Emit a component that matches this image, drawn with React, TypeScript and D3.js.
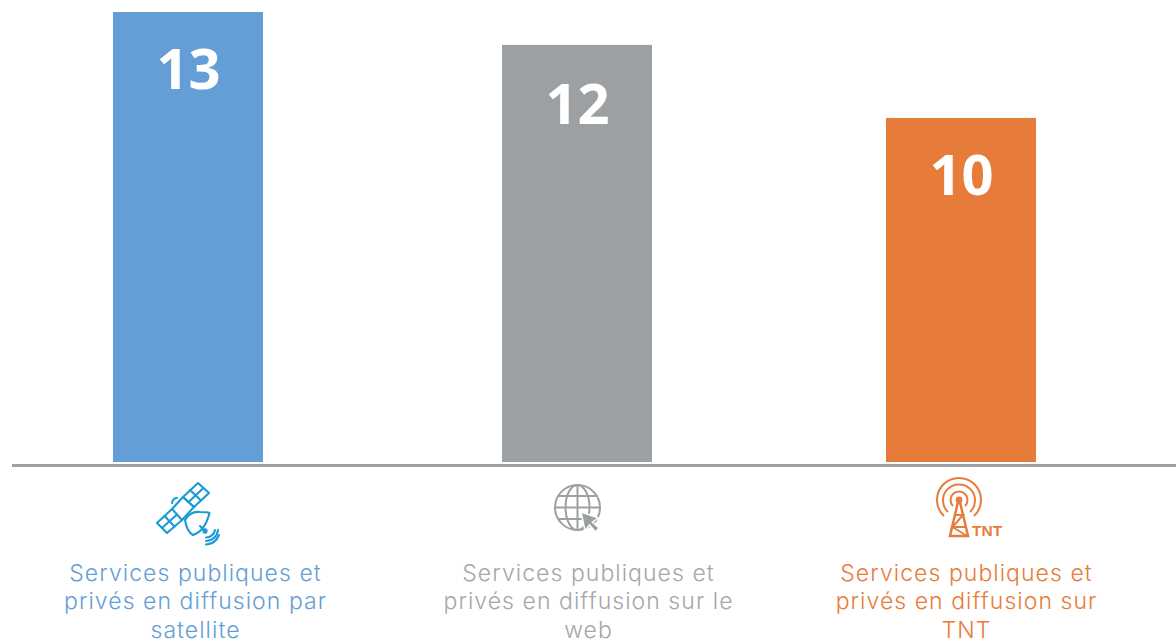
import React, { useEffect, useRef } from 'react';
import * as d3 from 'd3';

// heights, the printed labels round them
const categories = ['satellite', 'web', 'tnt'];
const values = [13, 12.05, 9.94];
const barColors = ['#659ed6', '#9da0a2', '#e77c3a'];
const textColors = ['#659ed6', '#a5a7aa', '#e77c3a'];
const valueOffsets = [77, 79.5, 77];
const labelLines = [
    ['Services publiques et', 'privés en diffusion par', 'satellite'],
    ['Services publiques et', 'privés en diffusion sur le', 'web'],
    ['Services publiques et', 'privés en diffusion sur', 'TNT'],
];

const WIDTH = 1176;
const HEIGHT = 641;

const SatelliteIcon = () => (
    <g fill="none" stroke="#1b9ad6" strokeWidth={2.1} strokeLinejoin="round" strokeLinecap="round">
        <path d="M183 497 L198 483 L209 493 L194 507 Z" />
        <path d="M188.500 502 L203.500 488 M190 490 L201 500.500" />
        <path d="M157 523 L172 509 L182 520 L167 533 Z" />
        <path d="M162 528 L177 514.500 M164.500 516 L174.500 526.500" />
        <path d="M172 509 L183 497 L194 507 L182 520" />
        <path d="M172 503 Q173 498 177 498" />
        <path d="M185 520 Q190 511 200 512 Q207 512 209.500 513 Q205 531 193 535 Q187 532 185 520 Z" />
        <path d="M200 526 L205 531" />
        <circle cx={205} cy={531} r={1.6} />
        <path d="M206 541 A12 12 0 0 0 218 530" />
        <path d="M206 537.500 A9 9 0 0 0 215 530" />
        <path d="M206 544.500 A15 15 0 0 0 219 535" />
    </g>
);

const GlobeIcon = () => (
    <g>
        <g fill="none" stroke="#9da0a2" strokeWidth={2}>
            <circle cx={577.5} cy={507.5} r={22.5} />
            <ellipse cx={577.5} cy={507.5} rx={12} ry={22.5} />
            <path d="M577.500 485 V530 M555 507.500 H600 M559 496 H596 M559 519 H596" />
        </g>
        <path
            d="M581 512 L585 531 L589.500 525 L595.500 532 L599 528 L592.500 522 L598.500 518 Z"
            fill="#9da0a2"
            stroke="#fff"
            strokeWidth={1.5}
        />
    </g>
);

const TowerIcon = () => (
    <g stroke="#e77c3a" fill="none" strokeWidth={2}>
        <path d="M953 506 A8.500 8.500 0 1 1 965 506" />
        <path d="M948 512 A16 16 0 1 1 970 512" />
        <path d="M944 516 A22 22 0 1 1 974 516" />
        <circle cx={959} cy={500} r={2.4} fill="#e77c3a" />
        <path d="M958 502 L950 536 H968 L960 502" strokeWidth={2.5} />
        <path d="M955 515 H963 L952.500 527 H965 M952.500 527 L967 536" />
        <text
            x={972}
            y={536}
            fontFamily="Liberation Sans"
            fontWeight={700}
            fontSize={15.5}
            fill="#e77c3a"
            stroke="none"
        >
            TNT
        </text>
    </g>
);

export default function App() {
    const ref = useRef<SVGSVGElement>(null);

    useEffect(() => {
        const svg = d3.select(ref.current);
        svg.selectAll('.chart').remove();
        const g = svg.append('g').attr('class', 'chart');

        const x = d3.scaleOrdinal<string, number>().domain(categories).range([188, 577, 961]);
        const labelX = d3.scaleOrdinal<string, number>().domain(categories).range([195.5, 588.5, 966.5]);
        const y = d3.scaleLinear().domain([0, 13]).range([462, 12]);
        const barWidth = 150;

        g.selectAll('.bar')
            .data(categories)
            .enter().append('rect')
            .attr('class', 'bar')
            .attr('x', (d) => x(d) - barWidth / 2)
            .attr('width', barWidth)
            .attr('y', (d, i) => y(values[i]))
            .attr('height', (d, i) => y(0) - y(values[i]))
            .attr('fill', (d, i) => barColors[i]);

        g.selectAll('.value')
            .data(categories)
            .enter().append('text')
            .attr('class', 'value')
            .attr('x', (d) => x(d) + 0.5)
            .attr('y', (d, i) => y(values[i]) + valueOffsets[i])
            .attr('text-anchor', 'middle')
            .attr('font-family', 'Open Sans')
            .attr('font-weight', 700)
            .attr('font-size', 56)
            .attr('fill', '#fff')
            .text((d, i) => d3.format('.0f')(values[i]));

        // baseline under the bars
        g.append('line')
            .attr('x1', 12)
            .attr('x2', WIDTH)
            .attr('y1', 465.5)
            .attr('y2', 465.5)
            .attr('stroke', '#9da0a2')
            .attr('stroke-width', 3);

        const labels = g.selectAll('.label')
            .data(categories)
            .enter().append('text')
            .attr('class', 'label')
            .attr('text-anchor', 'middle')
            .attr('font-family', 'Inter')
            .attr('font-weight', 300)
            .attr('font-size', 23)
            .attr('letter-spacing', 1.05)
            .attr('fill', (d, i) => textColors[i]);

        labels.each(function (d, i) {
            d3.select(this).selectAll('tspan')
                .data(labelLines[i])
                .enter().append('tspan')
                .attr('x', labelX(d))
                .attr('y', (line, j) => 581 + j * 28.3)
                .text((line) => line);
        });
    }, []);

    return (
        <svg
            ref={ref}
            width={WIDTH}
            height={HEIGHT}
            style={{ position: 'absolute', left: 0, top: 0, background: '#fff' }}
        >
            <SatelliteIcon />
            <GlobeIcon />
            <TowerIcon />
        </svg>
    );
}
